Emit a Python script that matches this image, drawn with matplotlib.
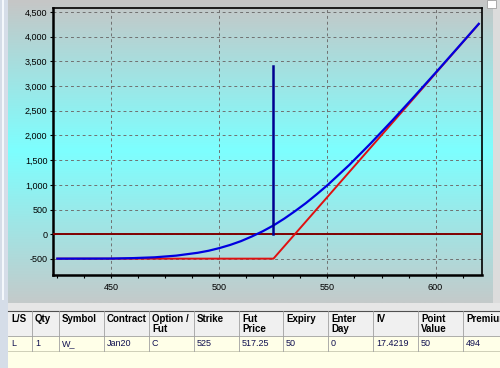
import matplotlib
matplotlib.use('Agg')
import matplotlib.pyplot as plt
import numpy as np
from matplotlib.patches import Rectangle

# option P&L data
fut_price = [425, 440, 450, 460, 470, 480, 490, 495, 500, 505, 510, 515, 520, 525,
             530, 535, 540, 545, 550, 560, 570, 580, 590, 600, 610, 620]
pnl_today = [-494, -493, -492, -483, -467, -433, -375, -334, -280, -216, -139, -45, 59, 178,
             316, 468, 630, 808, 994, 1399, 1840, 2303, 2781, 3268, 3762, 4259]
expiry_x = [425, 525, 620]
pnl_expiry = [-494, -494, 4256]
marker_x = 525
marker_top = 3400

y_ticks = [-500, 0, 500, 1000, 1500, 2000, 2500, 3000, 3500, 4000, 4500]
y_labels = ['-500', '0', '500', '1,000', '1,500', '2,000', '2,500', '3,000', '3,500', '4,000', '4,500']
x_major = [450, 500, 550, 600]
x_minor = [425, 437.5, 462.5, 475, 487.5, 512.5, 525, 537.5, 562.5, 575, 587.5, 612.5]

# position table
headers = ['L/S', 'Qty', 'Symbol', 'Contract', 'Option /\nFut', 'Strike', 'Fut\nPrice',
           'Expiry', 'Enter\nDay', 'IV', 'Point\nValue', 'Premium']
row = ['L', '1', 'W_', 'Jan20', 'C', '525', '517.25', '50', '0', '17.4219', '50', '494']
col_edges = [8, 32, 59, 104, 149, 194, 239, 283, 328, 373, 418, 463, 520]

W, H = 500, 368
fig = plt.figure(figsize=(W / 100, H / 100), dpi=100)
fig.patch.set_facecolor('#f0f0f0')

# background layer in pixel coordinates
bg = fig.add_axes([0, 0, 1, 1])
bg.set_xlim(0, W)
bg.set_ylim(H, 0)
bg.axis('off')

# gradient panel behind the chart
ys = np.arange(303)
stops_y = [0, 150, 302]
r = np.interp(ys, stops_y, [198, 125, 196])
g = np.interp(ys, stops_y, [198, 255, 202])
b = np.interp(ys, stops_y, [198, 255, 202])
grad = np.stack([r, g, b], axis=1)[:, None, :] / 255.0
bg.imshow(grad, extent=[8, 493, 303, 0], aspect='auto', interpolation='bilinear', zorder=0)

# window edges
bg.add_patch(Rectangle((0, 0), 8, H, facecolor='#d5dde8', edgecolor='none', zorder=1))
bg.add_patch(Rectangle((2, 0), 2, 300, facecolor='#f4f8fc', edgecolor='none', zorder=1))
bg.add_patch(Rectangle((493, 0), 7, 303, facecolor='#dcdcdc', edgecolor='none', zorder=1))
bg.add_patch(Rectangle((487, 0), 9, 8, facecolor='white', edgecolor='#a0a0a0', lw=0.6, zorder=2))
bg.add_patch(Rectangle((8, 303), 492, 8, facecolor='#e6e6e6', edgecolor='none', zorder=1))
bg.plot([8, 500], [310.5, 310.5], color='#505050', lw=0.8, zorder=2)

# table
bg.add_patch(Rectangle((8, 311), 492, 57, facecolor='#ffffe8', edgecolor='none', zorder=1))
bg.add_patch(Rectangle((8, 311), 492, 25, facecolor='#f0f0f0', edgecolor='none', zorder=1))
bg.plot([8, 500], [336, 336], color='#a0a0a0', lw=0.6, zorder=2)
bg.plot([8, 500], [350.5, 350.5], color='#c8c8b0', lw=0.6, zorder=2)
for x in col_edges[1:-1]:
    bg.plot([x, x], [311, 351], color='#a0a0a0', lw=0.6, zorder=2)
for i, (h, v) in enumerate(zip(headers, row)):
    x0 = col_edges[i] + 3
    bg.text(x0, 314, h, ha='left', va='top', fontsize=7, fontweight='bold',
            family='Liberation Sans', color='black', linespacing=0.95, zorder=3)
    bg.text(x0, 344, v, ha='left', va='center', fontsize=6.5,
            family='Liberation Sans', color='#101050', zorder=3)

# chart
ax = fig.add_axes([53 / W, 1 - 275 / H, (482 - 53) / W, (275 - 8) / H])
ax.set_facecolor('none')
ax.set_xlim(423, 621.5)
ax.set_ylim(-825, 4580)

ax.set_xticks(x_major)
ax.set_xticks(x_minor, minor=True)
ax.set_xticklabels([str(v) for v in x_major])
ax.set_yticks(y_ticks)
ax.set_yticklabels(y_labels)
ax.grid(True, which='major', color='#707070', lw=0.7, linestyle=(0, (3, 3)))
ax.tick_params(which='both', direction='out', length=2.5, width=0.8, colors='black',
               labelsize=6.5, pad=3)
ax.tick_params(axis='y', pad=1.5)
for lab in ax.get_xticklabels() + ax.get_yticklabels():
    lab.set_family('Liberation Sans')
for s in ax.spines.values():
    s.set_linewidth(1.2)
ax.spines['left'].set_linewidth(1.8)
ax.spines['bottom'].set_linewidth(1.8)

ax.axhline(0, color='#800000', lw=1.4, zorder=3)
ax.plot(expiry_x, pnl_expiry, color='#e01010', lw=1.4, zorder=4)
ax.plot(fut_price, pnl_today, color='#0000e0', lw=1.6, zorder=5)
ax.plot([marker_x, marker_x], [0, marker_top], color='#000090', lw=1.8, zorder=6)

fig.savefig('out.png', dpi=100)
